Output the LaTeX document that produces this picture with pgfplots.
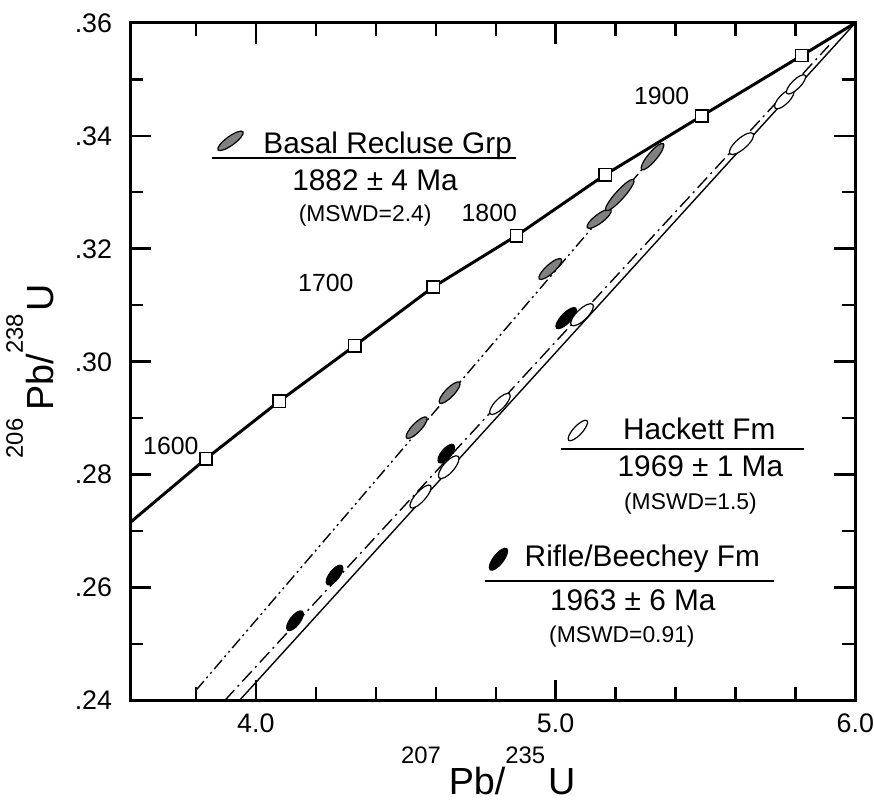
\documentclass[border=0pt]{standalone}
\usepackage{fontspec}
\setmainfont{Liberation Sans}
\usepackage{pgfplots}
\pgfplotsset{compat=1.18}

\newcommand\sups[1]{{\fontsize{24}{24}\selectfont\raisebox{31pt}{#1}}}
\newcommand\fsz[1]{\fontsize{#1}{#1}\selectfont}

\pgfplotsset{
  ell/.style n args={4}{only marks, mark=*, mark size=1pt,
    mark options={rotate=#1, xscale=#2, yscale=#3, draw=black, line width=1.2pt, fill=#4}},
}

\begin{document}
\begin{tikzpicture}
\begin{axis}[
  scale only axis, width=730pt, height=682pt,
  xmin=3.58, xmax=6.0, ymin=0.24, ymax=0.36,
  xtick={4,5,6}, xticklabels={},
  minor xtick={3.8,4.2,4.4,4.6,4.8,5.2,5.4,5.6,5.8},
  ytick={0.24,0.26,0.28,0.30,0.32,0.34,0.36}, yticklabels={},
  minor ytick={0.25,0.27,0.29,0.31,0.33,0.35},
  tick align=inside,
  major tick length=21pt, minor tick length=13pt,
  every tick/.append style={line width=2.5pt, black},
  axis line style={line width=2.8pt},
]
% discordia lines
\addplot[black, line width=1.4pt, dash pattern=on 12pt off 4pt on 2pt off 4pt on 2pt off 4pt]
  coordinates {(3.80,0.2418) (5.37,0.3391)};
\addplot[black, line width=1.4pt, dash pattern=on 14pt off 5pt on 2pt off 5pt]
  coordinates {(3.896,0.24) (5.912,0.356)};
\addplot[black, line width=1.4pt] coordinates {(3.945,0.24) (5.995,0.3597)};

% Basal Recluse Grp
\addplot[ell={46}{14.5}{4.5}{black!50}] coordinates {(4.536,0.2883)};
\addplot[ell={46}{14.5}{4.5}{black!50}] coordinates {(4.646,0.2945)};
\addplot[ell={42}{15}{4.5}{black!50}] coordinates {(4.982,0.3164)};
\addplot[ell={37}{15}{4.5}{black!50}] coordinates {(5.145,0.3253)};
\addplot[ell={48}{21}{4.5}{black!50}] coordinates {(5.214,0.3295)};
\addplot[ell={50}{17}{4.5}{black!50}] coordinates {(5.323,0.3363)};
% Rifle/Beechey Fm
\addplot[ell={52}{12}{5}{black}] coordinates {(4.130,0.2541)};
\addplot[ell={52}{12}{5}{black}] coordinates {(4.262,0.2622)};
\addplot[ell={50}{11.5}{5}{black}] coordinates {(4.635,0.2837)};
\addplot[ell={46}{14}{5}{black}] coordinates {(5.035,0.3077)};
% Hackett Fm
\addplot[ell={48}{15}{5}{white}] coordinates {(4.549,0.2761)};
\addplot[ell={49}{14.5}{5.5}{white}] coordinates {(4.643,0.2813)};
\addplot[ell={46}{14}{5}{white}] coordinates {(4.814,0.2925)};
\addplot[ell={44}{15}{5.5}{white}] coordinates {(5.088,0.3083)};
\addplot[ell={41}{15.5}{5.5}{white}] coordinates {(5.620,0.3386)};
\addplot[ell={45}{13}{5}{white}] coordinates {(5.763,0.3465)};
\addplot[ell={45}{13}{4.5}{white}] coordinates {(5.802,0.3491)};

% concordia
\addplot[black, line width=3pt] coordinates {
  (3.58,0.2715) (3.833,0.2828) (4.078,0.2930) (4.329,0.3028) (4.591,0.3132)
  (4.869,0.3223) (5.165,0.3331) (5.487,0.3435) (5.821,0.3542) (6.0,0.36)};
\addplot[only marks, mark=square*, mark size=6.2pt,
  mark options={fill=white, draw=black, line width=1.5pt}] coordinates {
  (3.833,0.2828) (4.078,0.2930) (4.329,0.3028) (4.591,0.3132)
  (4.869,0.3223) (5.165,0.3331) (5.487,0.3435) (5.821,0.3542)};

% legend rules and symbols
\addplot[black, line width=2pt] coordinates {(3.853,0.3360) (4.869,0.3360)};
\addplot[black, line width=2pt] coordinates {(5.018,0.2846) (5.830,0.2846)};
\addplot[black, line width=2pt] coordinates {(4.763,0.2611) (5.730,0.2611)};
\addplot[ell={36}{15.5}{4.5}{black!50}] coordinates {(3.915,0.3391)};
\addplot[ell={47}{13.5}{4.5}{white}] coordinates {(5.074,0.2878)};
\addplot[ell={52}{13.5}{5}{black}] coordinates {(4.809,0.2650)};
\end{axis}

% tick labels (origin at lower left corner of the axis, 1pt per pixel)
\foreach \v/\t in {0/.24,113.67/.26,227.33/.28,341/.30,454.67/.32,568.33/.34,682/.36}
  \node[anchor=base east, inner sep=0pt, font=\fsz{27}] at (-18pt,\v pt-9.5pt) {\t};
\foreach \v/\t in {126.5/4.0,428.2/5.0,730/6.0}
  \node[anchor=base, inner sep=0pt, font=\fsz{27}] at (\v pt,-32pt) {\t};

% texts
\node[anchor=base west, inner sep=0pt, font=\fsz{30}] at (134pt,550pt) {Basal Recluse Grp};
\node[anchor=base, inner sep=0pt, font=\fsz{30}] at (246.5pt,513.3pt) {1882 ± 4 Ma};
\node[anchor=base, inner sep=0pt, font=\fsz{23}] at (236.5pt,482pt) {(MSWD=2.4)};

\node[anchor=base west, inner sep=0pt, font=\fsz{30}] at (496pt,263pt) {Hackett Fm};
\node[anchor=base, inner sep=0pt, font=\fsz{30}] at (574pt,225pt) {1969 ± 1 Ma};
\node[anchor=base, inner sep=0pt, font=\fsz{23}] at (564pt,192pt) {(MSWD=1.5)};

\node[anchor=base west, inner sep=0pt, font=\fsz{30}] at (397pt,135pt) {Rifle/Beechey Fm};
\node[anchor=base, inner sep=0pt, font=\fsz{30}] at (506pt,90pt) {1963 ± 6 Ma};
\node[anchor=base, inner sep=0pt, font=\fsz{23}] at (495pt,58.3pt) {(MSWD=0.91)};

\node[anchor=base, inner sep=0pt, font=\fsz{25}] at (41pt,247pt) {1600};
\node[anchor=base, inner sep=0pt, font=\fsz{25}] at (197pt,412pt) {1700};
\node[anchor=base, inner sep=0pt, font=\fsz{25}] at (361.5pt,482pt) {1800};
\node[anchor=base, inner sep=0pt, font=\fsz{25}] at (535pt,600pt) {1900};

% axis titles
\node[anchor=base, inner sep=0pt] at (360.5pt,-95pt)
  {\fsz{38}\sups{207}\hspace{8pt}Pb/\sups{235}\hspace{3pt}U};
\node[anchor=base, inner sep=0pt, rotate=90] at (-77pt,331.5pt)
  {\fsz{38}\sups{206}\hspace{8pt}Pb/\sups{238}\hspace{3pt}U};

\path (-131pt,-104pt) rectangle (743pt,705pt);
\end{tikzpicture}
\end{document}
